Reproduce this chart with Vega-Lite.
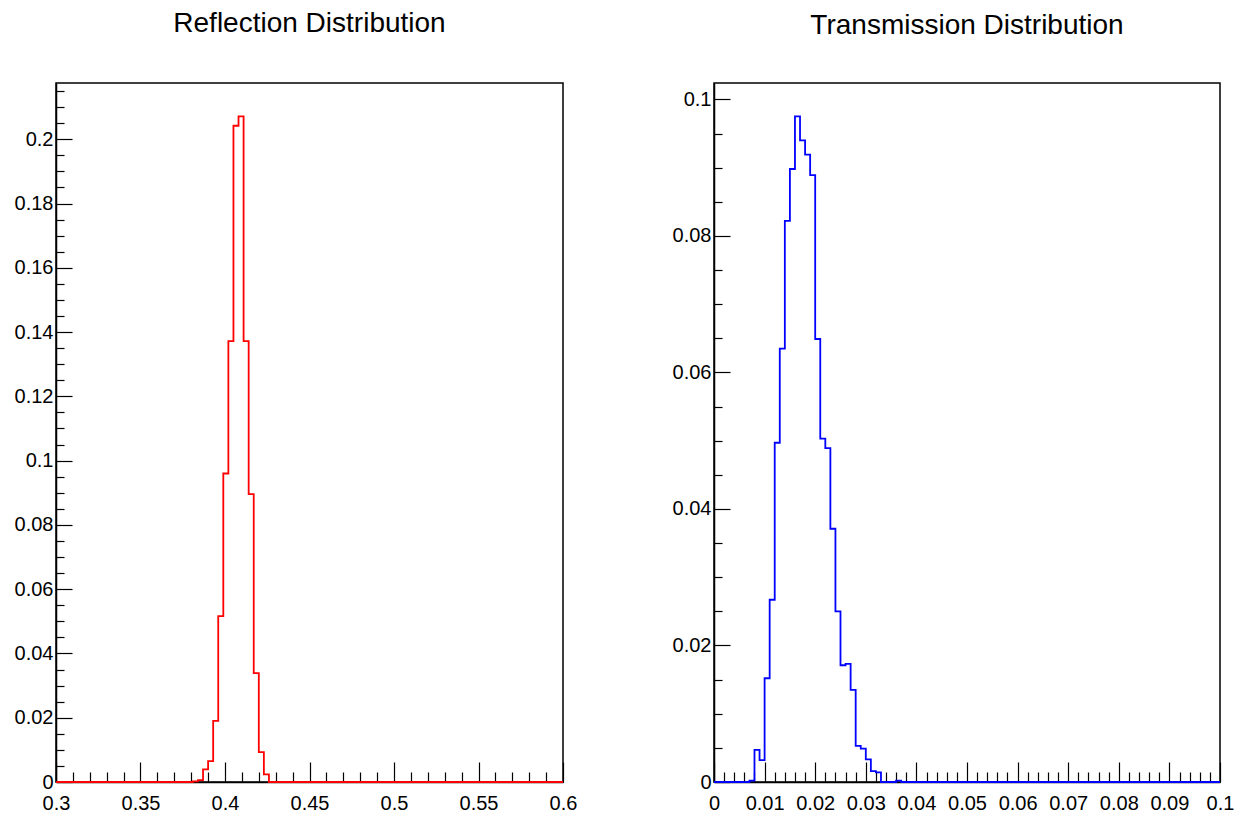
{
  "$schema": "https://vega.github.io/schema/vega-lite/v6.json",
  "background": "white",
  "padding": {"left": 13, "top": 9, "right": 5, "bottom": 5},
  "spacing": 93,
  "config": {
    "view": {"stroke": "#000", "strokeWidth": 1.5},
    "font": "Liberation Sans",
    "title": {"font": "Liberation Sans", "fontSize": 28, "fontWeight": "normal", "color": "#000", "anchor": "middle", "baseline": "alphabetic", "offset": 43, "frame": "group"},
    "axis": {"domainColor": "#000", "domainWidth": 1.5, "tickColor": "#000", "tickWidth": 1.2, "labelFont": "Liberation Sans", "labelFontSize": 20, "labelColor": "#000", "labelFlush": false, "labelOverlap": false, "labelBound": false, "grid": false, "title": null}
  },
  "hconcat": [
    {
      "title": "Reflection Distribution",
      "width": 507,
      "height": 699,
      "data": {"values": [
        {"x": 0.3, "y": 0}, {"x": 0.381, "y": 0.0002}, {"x": 0.384, "y": 0.0006}, {"x": 0.387, "y": 0.0039},
        {"x": 0.39, "y": 0.0065}, {"x": 0.393, "y": 0.019}, {"x": 0.396, "y": 0.0516}, {"x": 0.399, "y": 0.096},
        {"x": 0.402, "y": 0.1372}, {"x": 0.405, "y": 0.2042}, {"x": 0.408, "y": 0.2071}, {"x": 0.411, "y": 0.1372},
        {"x": 0.414, "y": 0.0896}, {"x": 0.417, "y": 0.0339}, {"x": 0.42, "y": 0.0093}, {"x": 0.423, "y": 0.0024},
        {"x": 0.426, "y": 0}, {"x": 0.6, "y": 0}
      ]},
      "mark": {"type": "line", "interpolate": "step-after", "color": "#ff0000", "strokeWidth": 1.8},
      "encoding": {
        "x": {"field": "x", "type": "quantitative", "scale": {"domain": [0.3, 0.6], "nice": false, "zero": false},
          "axis": {"values": [0.3,0.31,0.32,0.33,0.34,0.35,0.36,0.37,0.38,0.39,0.4,0.41,0.42,0.43,0.44,0.45,0.46,0.47,0.48,0.49,0.5,0.51,0.52,0.53,0.54,0.55,0.56,0.57,0.58,0.59,0.6],
            "format": ".2~f", "labelExpr": "round(datum.value*100) % 5 == 0 ? datum.label : ''",
            "tickSize": {"condition": {"test": "round(datum.value*100) % 5 == 0", "value": -20}, "value": -10},
            "labelPadding": 31}},
        "y": {"field": "y", "type": "quantitative", "scale": {"domain": [0, 0.2175], "nice": false},
          "axis": {"values": [0,0.005,0.01,0.015,0.02,0.025,0.03,0.035,0.04,0.045,0.05,0.055,0.06,0.065,0.07,0.075,0.08,0.085,0.09,0.095,0.1,0.105,0.11,0.115,0.12,0.125,0.13,0.135,0.14,0.145,0.15,0.155,0.16,0.165,0.17,0.175,0.18,0.185,0.19,0.195,0.2,0.205,0.21,0.215],
            "format": ".2~f", "labelExpr": "round(datum.value*1000) % 20 == 0 ? datum.label : ''",
            "tickSize": {"condition": {"test": "round(datum.value*1000) % 20 == 0", "value": -16}, "value": -8},
            "labelPadding": 19}}
      }
    },
    {
      "title": "Transmission Distribution",
      "width": 506,
      "height": 699,
      "data": {"values": [
        {"x": 0, "y": 0}, {"x": 0.007, "y": 0.0002}, {"x": 0.008, "y": 0.0047}, {"x": 0.009, "y": 0.0032},
        {"x": 0.01, "y": 0.0152}, {"x": 0.011, "y": 0.0267}, {"x": 0.012, "y": 0.0497}, {"x": 0.013, "y": 0.0635},
        {"x": 0.014, "y": 0.0822}, {"x": 0.015, "y": 0.0898}, {"x": 0.016, "y": 0.0975}, {"x": 0.017, "y": 0.094},
        {"x": 0.018, "y": 0.0919}, {"x": 0.019, "y": 0.0889}, {"x": 0.02, "y": 0.0649}, {"x": 0.021, "y": 0.0503},
        {"x": 0.022, "y": 0.0489}, {"x": 0.023, "y": 0.0371}, {"x": 0.024, "y": 0.025}, {"x": 0.025, "y": 0.0171},
        {"x": 0.026, "y": 0.0173}, {"x": 0.027, "y": 0.0135}, {"x": 0.028, "y": 0.0053}, {"x": 0.029, "y": 0.0049},
        {"x": 0.03, "y": 0.0033}, {"x": 0.031, "y": 0.0016}, {"x": 0.032, "y": 0.0014}, {"x": 0.033, "y": 0},
        {"x": 0.036, "y": 0.0002}, {"x": 0.037, "y": 0}, {"x": 0.1, "y": 0}
      ]},
      "mark": {"type": "line", "interpolate": "step-after", "color": "#0000ff", "strokeWidth": 1.8},
      "encoding": {
        "x": {"field": "x", "type": "quantitative", "scale": {"domain": [0, 0.1], "nice": false, "zero": false},
          "axis": {"values": [0,0.002,0.004,0.006,0.008,0.01,0.012,0.014,0.016,0.018,0.02,0.022,0.024,0.026,0.028,0.03,0.032,0.034,0.036,0.038,0.04,0.042,0.044,0.046,0.048,0.05,0.052,0.054,0.056,0.058,0.06,0.062,0.064,0.066,0.068,0.07,0.072,0.074,0.076,0.078,0.08,0.082,0.084,0.086,0.088,0.09,0.092,0.094,0.096,0.098,0.1],
            "format": ".2~f", "labelExpr": "round(datum.value*1000) % 10 == 0 ? datum.label : ''",
            "tickSize": {"condition": {"test": "round(datum.value*1000) % 10 == 0", "value": -20}, "value": -10},
            "labelPadding": 31}},
        "y": {"field": "y", "type": "quantitative", "scale": {"domain": [0, 0.1024], "nice": false},
          "axis": {"values": [0,0.005,0.01,0.015,0.02,0.025,0.03,0.035,0.04,0.045,0.05,0.055,0.06,0.065,0.07,0.075,0.08,0.085,0.09,0.095,0.1],
            "format": ".2~f", "labelExpr": "round(datum.value*1000) % 20 == 0 ? datum.label : ''",
            "tickSize": {"condition": {"test": "round(datum.value*1000) % 20 == 0", "value": -16}, "value": -8},
            "labelPadding": 19}}
      }
    }
  ]
}
